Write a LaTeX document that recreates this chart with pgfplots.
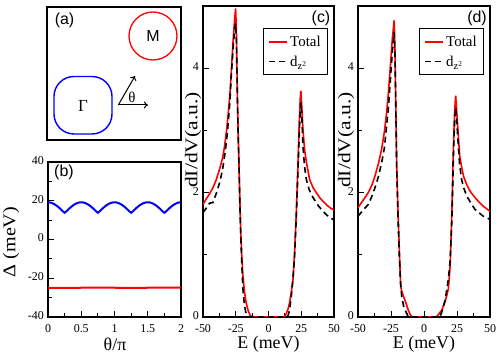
\documentclass[border=0pt]{standalone}
\usepackage{pgfplots}
\pgfplotsset{compat=1.18}
\usepackage{fontspec}
\setmainfont{Liberation Serif}
\newfontfamily\sansf{Liberation Sans}
\usetikzlibrary{arrows.meta}
\definecolor{myred}{RGB}{255,0,0}
\definecolor{myblue}{RGB}{0,0,255}
\pgfplotsset{
  base/.style={scale only axis, axis line style={line width=1.3bp},
    tick align=inside, tick pos=left, major tick length=6bp, minor tick length=4bp,
    every tick/.style={line width=1bp, black},
    tick label style={font=\fontsize{12}{12}\selectfont},
    xticklabel style={inner sep=1bp, yshift=-6bp},
    yticklabel style={inner sep=1bp, xshift=-3bp, yshift=1.5bp},
    /pgf/number format/assume math mode=true},
  dos/.style={base, xmin=-50, xmax=50, ymin=0, ymax=5,
    xtick={-50,-25,0,25,50}, minor x tick num=1,
    ytick={0,2,4}, minor y tick num=1,
    legend style={at={(0.956,0.928)}, anchor=north east, draw=black, line width=1bp,
      fill=white, font=\fontsize{15}{15}\selectfont, inner sep=5bp, row sep=4bp,
      cells={anchor=west}},
    legend image code/.code={\draw[##1] (0bp,0bp) -- (18bp,0bp);}},
  tot/.style={myred, line width=1.6bp},
  dz/.style={black, line width=1.6bp, dash pattern=on 6bp off 4bp},
}
\begin{document}
\begin{tikzpicture}
\useasboundingbox (0bp,0bp) rectangle (500bp,361bp);
% (a)
\begin{axis}[base, at={(47bp,221bp)}, anchor=south west, width=134bp, height=133bp,
  xmin=0, xmax=134, ymin=0, ymax=133, xtick=\empty, ytick=\empty]
  \draw[myred, line width=1.3bp] (axis cs:106,104) circle[radius=24bp];
  \draw[myblue, line width=1.4bp, rounded corners=20bp] (axis cs:7,6) rectangle (axis cs:65,63.5);
  \node[font=\sansf\fontsize{16}{16}\selectfont] at (axis cs:17.5,120) {(a)};
  \node[font=\sansf\fontsize{16}{16}\selectfont] at (axis cs:106,104) {M};
  \node[font=\fontsize{17}{17}\selectfont] at (axis cs:36,34.5) {Γ};
  \draw[line width=1bp, -{To[length=4bp,width=7bp]}] (axis cs:71.3,35) -- (axis cs:101,35);
  \draw[line width=1bp, -{To[length=4bp,width=7bp]}] (axis cs:71.3,35) -- (axis cs:88,64);
  \node[font=\fontsize{15}{15}\selectfont] at (axis cs:85,42.5) {θ};
\end{axis}
% (b)
\begin{axis}[base, at={(48bp,44bp)}, anchor=south west, width=133bp, height=155bp,
  xmin=0, xmax=2, ymin=-40, ymax=40,
  xtick={0,0.5,1,1.5,2}, xticklabels={0,0.5,1,1.5,2}, minor x tick num=1,
  ytick={-40,-20,0,20,40}, minor y tick num=1]
  \addplot[myblue, line width=2bp] coordinates {
    (0,19.2) (0.025,19.13) (0.05,18.93) (0.075,18.59) (0.1,18.13) (0.125,17.56) (0.15,16.89) (0.175,16.14) (0.2,15.33) (0.225,14.5) (0.25,13.8)
    (0.275,14.5) (0.3,15.33) (0.325,16.14) (0.35,16.89) (0.375,17.56) (0.4,18.13) (0.425,18.59) (0.45,18.93) (0.475,19.13) (0.5,19.2)
    (0.525,19.13) (0.55,18.93) (0.575,18.59) (0.6,18.13) (0.625,17.56) (0.65,16.89) (0.675,16.14) (0.7,15.33) (0.725,14.5) (0.75,13.8)
    (0.775,14.5) (0.8,15.33) (0.825,16.14) (0.85,16.89) (0.875,17.56) (0.9,18.13) (0.925,18.59) (0.95,18.93) (0.975,19.13) (1,19.2)
    (1.025,19.13) (1.05,18.93) (1.075,18.59) (1.1,18.13) (1.125,17.56) (1.15,16.89) (1.175,16.14) (1.2,15.33) (1.225,14.5) (1.25,13.8)
    (1.275,14.5) (1.3,15.33) (1.325,16.14) (1.35,16.89) (1.375,17.56) (1.4,18.13) (1.425,18.59) (1.45,18.93) (1.475,19.13) (1.5,19.2)
    (1.525,19.13) (1.55,18.93) (1.575,18.59) (1.6,18.13) (1.625,17.56) (1.65,16.89) (1.675,16.14) (1.7,15.33) (1.725,14.5) (1.75,13.8)
    (1.775,14.5) (1.8,15.33) (1.825,16.14) (1.85,16.89) (1.875,17.56) (1.9,18.13) (1.925,18.59) (1.95,18.93) (1.975,19.13) (2,19.2)};
  \addplot[myred, line width=2bp] coordinates {
    (0,-24.9) (0.25,-25.0) (0.5,-24.9) (0.75,-24.8) (1,-24.9) (1.25,-25.0) (1.5,-24.9) (1.75,-24.8) (2,-24.9)};
  \node[font=\sansf\fontsize{16}{16}\selectfont] at (rel axis cs:0.12,0.93) {(b)};
\end{axis}
% (c)
\begin{axis}[dos, at={(203bp,44bp)}, anchor=south west, width=131bp, height=311bp]
  \addplot[tot] coordinates {
    (-50,1.81) (-47.5,1.90) (-45,1.98) (-42.4,2.08) (-40,2.20) (-37.3,2.38) (-35,2.56) (-33.5,2.75) (-32,3.0) (-30.9,3.24)
    (-29.5,3.58) (-28.4,3.94) (-27.1,4.42) (-26,4.75) (-25.1,4.96) (-24.5,4.6) (-23.8,3.6) (-23.2,3.0) (-22.5,2.43) (-21.9,1.9)
    (-21.2,1.38) (-20.4,0.98) (-19.5,0.66) (-18.3,0.40) (-17,0.22) (-15.5,0.10) (-14,0.03) (-12.5,0.005) (-11.5,0)
    (11.5,0) (12.3,0.01) (13.5,0.05) (14.8,0.12) (16.1,0.23) (17.4,0.40) (18.7,0.60) (19.9,1.03) (21.2,1.66) (22.5,2.47)
    (23.5,3.15) (24.2,3.5) (24.7,3.64) (25.3,3.42) (26.3,3.02) (27.5,2.70) (28.9,2.49) (31.4,2.21) (34,2.08) (36.5,2.0)
    (39,1.92) (41.6,1.86) (45,1.79) (47.5,1.75) (50,1.72)};
  \addlegendentry{Total}
  \addplot[dz] coordinates {
    (-50,1.68) (-47.5,1.75) (-45,1.83) (-42.4,1.84) (-40,1.98) (-37.3,2.16) (-35,2.38) (-33.5,2.59) (-32,2.84) (-30.9,3.08)
    (-29.5,3.45) (-28.4,3.88) (-27.1,4.3) (-26,4.58) (-25.1,4.72) (-24.5,4.45) (-23.8,3.6) (-23.2,2.95) (-22.5,2.4) (-21.9,1.85)
    (-21.2,1.32) (-20.4,0.86) (-19.5,0.44) (-18.5,0.22) (-17.5,0.09) (-16.5,0.02) (-15.5,0)
    (14.5,0) (15.5,0.06) (16.5,0.18) (17.4,0.33) (18.7,0.62) (19.9,0.98) (21.2,1.6) (22.5,2.35) (23.5,2.95) (24.2,3.3)
    (24.8,3.45) (25.5,3.2) (26.3,2.75) (27.5,2.42) (28.9,2.21) (31,2.05) (34,1.92) (38,1.79) (41.6,1.70) (45,1.63) (47.5,1.59) (50,1.56)};
  \addlegendentry{d\textsubscript{z\textsuperscript{2}}}
\end{axis}
% (d)
\begin{axis}[dos, at={(358bp,44bp)}, anchor=south west, width=132bp, height=311bp]
  \addplot[tot] coordinates {
    (-50,1.76) (-46,1.88) (-42.2,2.0) (-39.5,2.12) (-37.1,2.27) (-34.5,2.47) (-32.1,2.7) (-30,2.98) (-28.3,3.29) (-27,3.6)
    (-25.8,3.94) (-24,4.47) (-22.6,4.77) (-22,4.3) (-21.3,3.3) (-20.7,2.43) (-19.7,1.7) (-18.7,1.09) (-17.7,0.49) (-16.9,0.42)
    (-15.5,0.33) (-14.4,0.27) (-13,0.18) (-11.9,0.11) (-10.5,0.04) (-9.3,0.01) (-8.5,0)
    (8.5,0) (9.7,0.01) (11,0.04) (12.3,0.08) (13.5,0.11) (15,0.2) (16,0.25) (17.3,0.35) (18.5,0.46) (19.8,0.82)
    (21.1,1.68) (22.3,2.75) (23.2,3.3) (24.0,3.56) (24.8,3.3) (26,2.91) (27,2.6) (28.5,2.41) (30,2.26) (32.3,2.13)
    (35,2.02) (38.6,1.92) (42,1.84) (44.9,1.78) (50,1.70)};
  \addlegendentry{Total}
  \addplot[dz] coordinates {
    (-50,1.62) (-46,1.72) (-42.2,1.81) (-39.5,1.94) (-37.1,2.08) (-34.5,2.26) (-32.1,2.48) (-30,2.72) (-28.3,3.08) (-27,3.35)
    (-25.8,3.72) (-24,4.26) (-22.6,4.58) (-22,4.2) (-21.3,3.3) (-20.7,2.4) (-19.7,1.6) (-18.7,0.98) (-17.7,0.55) (-16.9,0.33)
    (-15.5,0.18) (-14.4,0.12) (-13,0.05) (-12,0.01) (-11.5,0)
    (11.5,0) (12.2,0.01) (13.5,0.08) (14.8,0.17) (16,0.28) (17.3,0.44) (18.5,0.62) (19.8,0.9) (21.1,1.55) (22.3,2.6)
    (23.2,3.15) (24.0,3.37) (24.8,3.15) (26,2.75) (27,2.45) (28.5,2.21) (30,2.08) (32.3,1.95) (35,1.85) (38.6,1.73)
    (42,1.67) (44.9,1.62) (50,1.57)};
  \addlegendentry{d\textsubscript{z\textsuperscript{2}}}
\end{axis}
% labels
\node[font=\sansf\fontsize{16}{16}\selectfont] at (321bp,343bp) {(c)};
\node[font=\sansf\fontsize{16}{16}\selectfont] at (477bp,343bp) {(d)};
\node[font=\fontsize{18}{18}\selectfont] at (268.5bp,17bp) {E (meV)};
\node[font=\fontsize{18}{18}\selectfont] at (424bp,17bp) {E (meV)};
\node[font=\fontsize{18}{18}\selectfont] at (115bp,17bp) {θ/π};
\node[font=\fontsize{18}{18}\selectfont, rotate=90] at (11bp,119bp) {\scalebox{1.12}[1]{Δ (meV)}};
\node[font=\fontsize{18}{18}\selectfont, rotate=90] at (193bp,221bp) {\scalebox{1.2}[1]{dI/dV(a.u.)}};
\node[font=\fontsize{18}{18}\selectfont, rotate=90] at (346bp,221bp) {\scalebox{1.2}[1]{dI/dV(a.u.)}};
\end{tikzpicture}
\end{document}
